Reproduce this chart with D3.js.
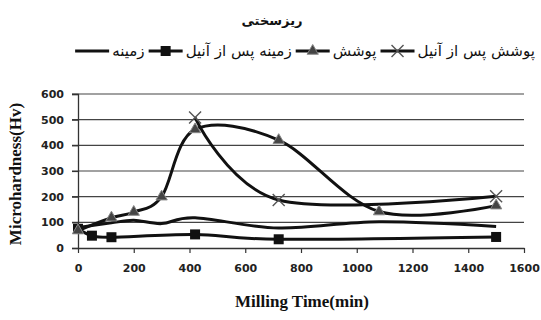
<!DOCTYPE html>
<html><head><meta charset="utf-8">
<script src="https://cdn.jsdelivr.net/npm/d3@7"></script>
<style>body{margin:0;background:#fff}</style>
</head><body>
<svg id="c" width="541" height="320"></svg>
<script>
const title = "ریزسختی";
const seriesNames = ["زمینه", "زمینه پس از آنیل", "پوشش", "پوشش پس از آنیل"];
const baseX = [0, 50, 120, 200, 300, 420, 720, 1080, 1500];
const baseY = [80, 88, 98, 108, 95, 118, 78, 102, 84];
const baseAnnX = [0, 50, 120, 420, 720, 1500];
const baseAnnY = [75, 48, 42, 53, 34, 43];
const coatX = [0, 120, 200, 300, 420, 720, 1080, 1500];
const coatY = [68, 118, 140, 200, 462, 420, 142, 165];
const coatAnnX = [420, 720, 1500];
const coatAnnY = [508, 187, 202];
const xTicks = [0, 200, 400, 600, 800, 1000, 1200, 1400, 1600];
const yTicks = [0, 100, 200, 300, 400, 500, 600];

const svg = d3.select("#c");
const x = d3.scaleLinear().domain([0, 1600]).range([78, 524]);
const y = d3.scaleLinear().domain([0, 600]).range([248, 94]);

svg.append("g").selectAll("line").data(yTicks.filter(d => d > 0)).join("line")
  .attr("x1", x(0) - 6).attr("x2", x(1600)).attr("y1", d => y(d)).attr("y2", d => y(d))
  .attr("stroke", "#444").attr("stroke-width", 1.2);

const yAxis = d3.axisLeft(y).tickValues(yTicks).tickSize(6).tickPadding(8).tickFormat(d3.format("d"));
const gy = svg.append("g").attr("transform", `translate(${x(0)},0)`).call(yAxis);
gy.select(".domain").attr("stroke", "#333").attr("stroke-width", 1.3);
gy.selectAll("line").attr("stroke", "#333").attr("stroke-width", 1.2);
gy.selectAll("text").attr("font-family", "DejaVu Sans").attr("font-weight", "bold").attr("font-size", 11).attr("fill", "#222");

const xAxis = d3.axisBottom(x).tickValues(xTicks).tickSize(5).tickPadding(11).tickSizeOuter(0).tickFormat(d3.format("d"));
const gx = svg.append("g").attr("transform", `translate(0,${y(0)})`).call(xAxis);
gx.select(".domain").attr("stroke", "#333").attr("stroke-width", 1.3);
gx.selectAll("line").attr("stroke", "#333").attr("stroke-width", 1.2);
gx.selectAll("text").attr("font-family", "DejaVu Sans").attr("font-weight", "bold").attr("font-size", 11).attr("fill", "#222");

const line = d3.line().x(d => x(d[0])).y(d => y(d[1])).curve(d3.curveCardinal.tension(0));
const zip = (a, b) => a.map((v, i) => [v, b[i]]);

const series = [
  {pts: zip(baseX, baseY), marker: "none"},
  {pts: zip(baseAnnX, baseAnnY), marker: "square"},
  {pts: zip(coatX, coatY), marker: "triangle"},
  {pts: zip(coatAnnX, coatAnnY), marker: "cross"}
];

function drawMarker(g, type, cx, cy) {
  if (type === "square") {
    g.append("rect").attr("x", cx - 5).attr("y", cy - 5).attr("width", 10).attr("height", 10).attr("fill", "#111");
  } else if (type === "triangle") {
    g.append("path").attr("d", d3.symbol(d3.symbolTriangle, 55)()).attr("transform", `translate(${cx},${cy})`)
      .attr("fill", "#444").attr("stroke", "#888").attr("stroke-width", 1);
  } else if (type === "cross") {
    g.append("path").attr("d", `M${cx-6},${cy-6}L${cx+6},${cy+6}M${cx-6},${cy+6}L${cx+6},${cy-6}`)
      .attr("stroke", "#555").attr("stroke-width", 1.4);
  }
}

const gl = svg.append("g");
series.forEach(s => {
  gl.append("path").attr("d", line(s.pts)).attr("fill", "none").attr("stroke", "#111").attr("stroke-width", 3);
});
series.forEach(s => {
  s.pts.forEach(p => drawMarker(gl, s.marker, x(p[0]), y(p[1])));
});

svg.append("text").attr("x", 272).attr("y", 25).attr("text-anchor", "middle")
  .attr("font-family", "DejaVu Sans").attr("font-weight", "bold").attr("font-size", 13).attr("fill", "#111").text(title);

// legend: fit between x=75 and x=535
const symW = 34, gapA = 3, gapB = 4;
const probe = svg.append("text").attr("font-family", "DejaVu Sans").attr("font-size", 16);
let sum16 = 0;
seriesNames.forEach(n => { probe.text(n); sum16 += probe.node().getComputedTextLength(); });
probe.remove();
const avail = 460 - 4 * (symW + gapA) - 3 * gapB;
const fs = Math.min(16, 16 * avail / sum16);
const lg = svg.append("g");
let cur = 0;
series.forEach((s, i) => {
  const g = lg.append("g");
  g.append("line").attr("x1", cur).attr("x2", cur + symW).attr("y1", 0).attr("y2", 0).attr("stroke", "#111").attr("stroke-width", 3);
  drawMarker(g, s.marker, cur + symW / 2, 0);
  const t = g.append("text").attr("x", cur + symW + gapA).attr("y", 5).attr("font-family", "DejaVu Sans")
    .attr("font-size", fs).attr("fill", "#111").attr("direction", "rtl").attr("text-anchor", "end").text(seriesNames[i]);
  const w = t.node().getComputedTextLength();
  cur += symW + gapA + w + gapB;
});
const total = cur - gapB;
lg.attr("transform", `translate(${305 - total / 2},51)`);

svg.append("text").attr("x", 302).attr("y", 307).attr("text-anchor", "middle")
  .attr("font-family", "Liberation Serif").attr("font-weight", "bold").attr("font-size", 17).attr("fill", "#111")
  .text("Milling Time(min)");
svg.append("text").attr("transform", "translate(21,174) rotate(-90)").attr("text-anchor", "middle")
  .attr("font-family", "Liberation Serif").attr("font-weight", "bold").attr("font-size", 17).attr("fill", "#111")
  .text("Microhardness(Hv)");
</script>
</body></html>
